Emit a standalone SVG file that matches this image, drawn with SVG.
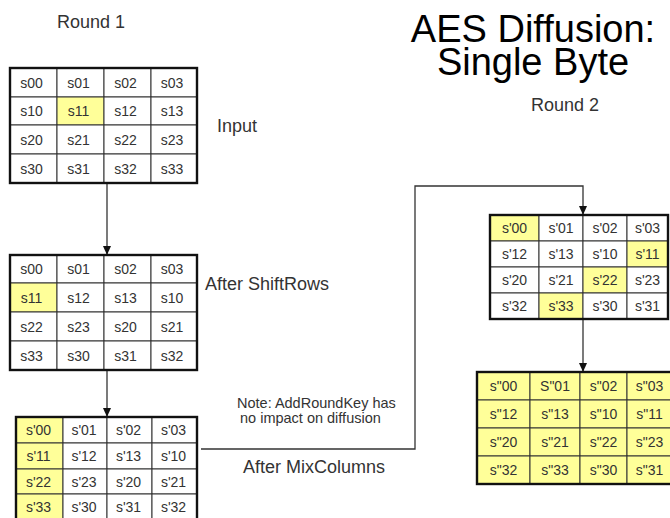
<svg xmlns="http://www.w3.org/2000/svg" width="670" height="518" viewBox="0 0 670 518">
<style>
.c{fill:#fff;stroke:#333;stroke-width:1}
.h{fill:#ffff99;stroke:#333;stroke-width:1}
.o{fill:none;stroke:#111;stroke-width:2.4}
.t{font-family:"Liberation Sans",Arial,sans-serif;font-size:14px;fill:#333;text-anchor:middle}
.l{font-family:"Liberation Sans",Arial,sans-serif;font-size:18px;fill:#333}
.n{font-family:"Liberation Sans",Arial,sans-serif;font-size:14.5px;fill:#333}
.ti{font-family:"Liberation Sans",Arial,sans-serif;font-size:38px;fill:#000;text-anchor:middle}
.conn{fill:none;stroke:#333;stroke-width:1.3}
</style>
<defs>
<marker id="ah" markerWidth="9" markerHeight="8" refX="8" refY="4" orient="auto" markerUnits="userSpaceOnUse"><path d="M0,0 L9,4 L0,8 z" fill="#111"/></marker>
</defs>
<rect width="670" height="518" fill="#fff"/>

<g id="title">
<text class="ti" x="533" y="42">AES Diffusion:<tspan x="533" dy="33">Single Byte</tspan></text>
</g>
<g id="labels">
<text class="l" x="57" y="28">Round 1</text>
<text class="l" x="531" y="111">Round 2</text>
<text class="l" x="217" y="132">Input</text>
<text class="l" x="205" y="290">After ShiftRows</text>
<text class="l" x="243" y="473">After MixColumns</text>
<text class="n" x="237" y="408">Note: AddRoundKey has</text>
<text class="n" x="240" y="423">no impact on diffusion</text>
</g>

<g id="connectors">
<line class="conn" x1="107" y1="183" x2="107" y2="254" marker-end="url(#ah)"/>
<line class="conn" x1="107" y1="370" x2="107" y2="416" marker-end="url(#ah)"/>
<path class="conn" d="M201,449 H415 V186 H583 V214" marker-end="url(#ah)"/>
<line class="conn" x1="583" y1="319" x2="583" y2="371" marker-end="url(#ah)"/>
</g>

<g id="grid-input">
<rect class="c" x="10" y="68" width="47" height="29"/><rect class="c" x="57" y="68" width="47" height="29"/><rect class="c" x="104" y="68" width="47" height="29"/><rect class="c" x="151" y="68" width="46" height="29"/>
<rect class="c" x="10" y="97" width="47" height="28"/><rect class="h" x="57" y="97" width="47" height="28"/><rect class="c" x="104" y="97" width="47" height="28"/><rect class="c" x="151" y="97" width="46" height="28"/>
<rect class="c" x="10" y="125" width="47" height="29"/><rect class="c" x="57" y="125" width="47" height="29"/><rect class="c" x="104" y="125" width="47" height="29"/><rect class="c" x="151" y="125" width="46" height="29"/>
<rect class="c" x="10" y="154" width="47" height="29"/><rect class="c" x="57" y="154" width="47" height="29"/><rect class="c" x="104" y="154" width="47" height="29"/><rect class="c" x="151" y="154" width="46" height="29"/>
<rect class="o" x="10" y="68" width="187" height="115"/>
<text class="t" x="31.5" y="87.5">s00</text><text class="t" x="78.5" y="87.5">s01</text><text class="t" x="125.5" y="87.5">s02</text><text class="t" x="172" y="87.5">s03</text>
<text class="t" x="31.5" y="116">s10</text><text class="t" x="78.5" y="116">s11</text><text class="t" x="125.5" y="116">s12</text><text class="t" x="172" y="116">s13</text>
<text class="t" x="31.5" y="144.5">s20</text><text class="t" x="78.5" y="144.5">s21</text><text class="t" x="125.5" y="144.5">s22</text><text class="t" x="172" y="144.5">s23</text>
<text class="t" x="31.5" y="173.5">s30</text><text class="t" x="78.5" y="173.5">s31</text><text class="t" x="125.5" y="173.5">s32</text><text class="t" x="172" y="173.5">s33</text>
</g>

<g id="grid-shiftrows">
<rect class="c" x="10" y="255" width="47" height="28"/><rect class="c" x="57" y="255" width="47" height="28"/><rect class="c" x="104" y="255" width="47" height="28"/><rect class="c" x="151" y="255" width="46" height="28"/>
<rect class="h" x="10" y="283" width="47" height="29"/><rect class="c" x="57" y="283" width="47" height="29"/><rect class="c" x="104" y="283" width="47" height="29"/><rect class="c" x="151" y="283" width="46" height="29"/>
<rect class="c" x="10" y="312" width="47" height="29"/><rect class="c" x="57" y="312" width="47" height="29"/><rect class="c" x="104" y="312" width="47" height="29"/><rect class="c" x="151" y="312" width="46" height="29"/>
<rect class="c" x="10" y="341" width="47" height="29"/><rect class="c" x="57" y="341" width="47" height="29"/><rect class="c" x="104" y="341" width="47" height="29"/><rect class="c" x="151" y="341" width="46" height="29"/>
<rect class="o" x="10" y="255" width="187" height="115"/>
<text class="t" x="31.5" y="274">s00</text><text class="t" x="78.5" y="274">s01</text><text class="t" x="125.5" y="274">s02</text><text class="t" x="172" y="274">s03</text>
<text class="t" x="31.5" y="302.5">s11</text><text class="t" x="78.5" y="302.5">s12</text><text class="t" x="125.5" y="302.5">s13</text><text class="t" x="172" y="302.5">s10</text>
<text class="t" x="31.5" y="331.5">s22</text><text class="t" x="78.5" y="331.5">s23</text><text class="t" x="125.5" y="331.5">s20</text><text class="t" x="172" y="331.5">s21</text>
<text class="t" x="31.5" y="360.5">s33</text><text class="t" x="78.5" y="360.5">s30</text><text class="t" x="125.5" y="360.5">s31</text><text class="t" x="172" y="360.5">s32</text>
</g>

<g id="grid-mixcolumns">
<rect class="h" x="16" y="417" width="47" height="26"/><rect class="c" x="63" y="417" width="44" height="26"/><rect class="c" x="107" y="417" width="45" height="26"/><rect class="c" x="152" y="417" width="45" height="26"/>
<rect class="h" x="16" y="443" width="47" height="26"/><rect class="c" x="63" y="443" width="44" height="26"/><rect class="c" x="107" y="443" width="45" height="26"/><rect class="c" x="152" y="443" width="45" height="26"/>
<rect class="h" x="16" y="469" width="47" height="25"/><rect class="c" x="63" y="469" width="44" height="25"/><rect class="c" x="107" y="469" width="45" height="25"/><rect class="c" x="152" y="469" width="45" height="25"/>
<rect class="h" x="16" y="494" width="47" height="26"/><rect class="c" x="63" y="494" width="44" height="26"/><rect class="c" x="107" y="494" width="45" height="26"/><rect class="c" x="152" y="494" width="45" height="26"/>
<rect class="o" x="16" y="417" width="181" height="103"/>
<text class="t" x="38.5" y="435">s'00</text><text class="t" x="84" y="435">s'01</text><text class="t" x="128.5" y="435">s'02</text><text class="t" x="173.5" y="435">s'03</text>
<text class="t" x="38.5" y="461">s'11</text><text class="t" x="84" y="461">s'12</text><text class="t" x="128.5" y="461">s'13</text><text class="t" x="173.5" y="461">s'10</text>
<text class="t" x="38.5" y="486.5">s'22</text><text class="t" x="84" y="486.5">s'23</text><text class="t" x="128.5" y="486.5">s'20</text><text class="t" x="173.5" y="486.5">s'21</text>
<text class="t" x="38.5" y="512">s'33</text><text class="t" x="84" y="512">s'30</text><text class="t" x="128.5" y="512">s'31</text><text class="t" x="173.5" y="512">s'32</text>
</g>

<g id="grid-round2-shiftrows">
<rect class="h" x="490" y="215" width="49" height="26"/><rect class="c" x="539" y="215" width="44" height="26"/><rect class="c" x="583" y="215" width="44" height="26"/><rect class="c" x="627" y="215" width="41" height="26"/>
<rect class="c" x="490" y="241" width="49" height="26"/><rect class="c" x="539" y="241" width="44" height="26"/><rect class="c" x="583" y="241" width="44" height="26"/><rect class="h" x="627" y="241" width="41" height="26"/>
<rect class="c" x="490" y="267" width="49" height="26"/><rect class="c" x="539" y="267" width="44" height="26"/><rect class="h" x="583" y="267" width="44" height="26"/><rect class="c" x="627" y="267" width="41" height="26"/>
<rect class="c" x="490" y="293" width="49" height="26"/><rect class="h" x="539" y="293" width="44" height="26"/><rect class="c" x="583" y="293" width="44" height="26"/><rect class="c" x="627" y="293" width="41" height="26"/>
<rect class="o" x="490" y="215" width="178" height="104"/>
<text class="t" x="514.5" y="233">s'00</text><text class="t" x="561" y="233">s'01</text><text class="t" x="605" y="233">s'02</text><text class="t" x="647.5" y="233">s'03</text>
<text class="t" x="514.5" y="259">s'12</text><text class="t" x="561" y="259">s'13</text><text class="t" x="605" y="259">s'10</text><text class="t" x="647.5" y="259">s'11</text>
<text class="t" x="514.5" y="285">s'20</text><text class="t" x="561" y="285">s'21</text><text class="t" x="605" y="285">s'22</text><text class="t" x="647.5" y="285">s'23</text>
<text class="t" x="514.5" y="311">s'32</text><text class="t" x="561" y="311">s'33</text><text class="t" x="605" y="311">s'30</text><text class="t" x="647.5" y="311">s'31</text>
</g>

<g id="grid-round2-mixcolumns">
<rect class="h" x="477" y="372" width="53" height="28"/><rect class="h" x="530" y="372" width="50" height="28"/><rect class="h" x="580" y="372" width="47" height="28"/><rect class="h" x="627" y="372" width="45" height="28"/>
<rect class="h" x="477" y="400" width="53" height="28"/><rect class="h" x="530" y="400" width="50" height="28"/><rect class="h" x="580" y="400" width="47" height="28"/><rect class="h" x="627" y="400" width="45" height="28"/>
<rect class="h" x="477" y="428" width="53" height="28"/><rect class="h" x="530" y="428" width="50" height="28"/><rect class="h" x="580" y="428" width="47" height="28"/><rect class="h" x="627" y="428" width="45" height="28"/>
<rect class="h" x="477" y="456" width="53" height="28"/><rect class="h" x="530" y="456" width="50" height="28"/><rect class="h" x="580" y="456" width="47" height="28"/><rect class="h" x="627" y="456" width="45" height="28"/>
<rect class="o" x="477" y="372" width="195" height="112"/>
<text class="t" x="503.5" y="391">s"00</text><text class="t" x="555" y="391">S"01</text><text class="t" x="603.5" y="391">s"02</text><text class="t" x="649.5" y="391">s"03</text>
<text class="t" x="503.5" y="419">s"12</text><text class="t" x="555" y="419">s"13</text><text class="t" x="603.5" y="419">s"10</text><text class="t" x="649.5" y="419">s"11</text>
<text class="t" x="503.5" y="447">s"20</text><text class="t" x="555" y="447">s"21</text><text class="t" x="603.5" y="447">s"22</text><text class="t" x="649.5" y="447">s"23</text>
<text class="t" x="503.5" y="475">s"32</text><text class="t" x="555" y="475">s"33</text><text class="t" x="603.5" y="475">s"30</text><text class="t" x="649.5" y="475">s"31</text>
</g>
</svg>
